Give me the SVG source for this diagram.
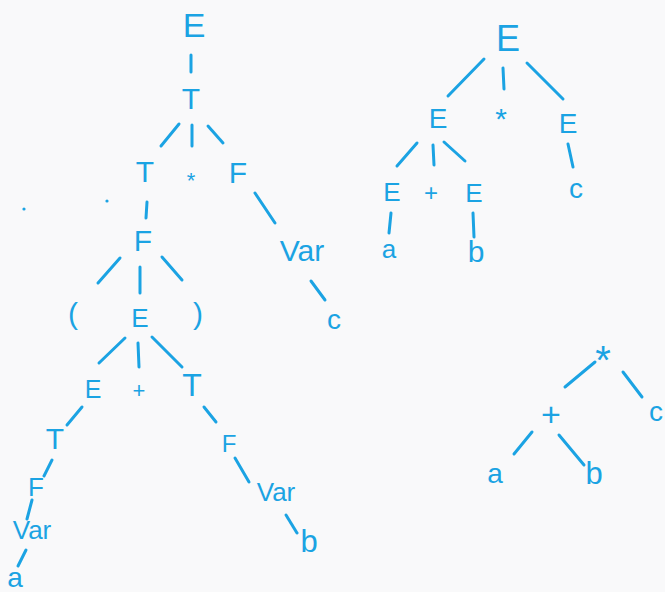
<svg xmlns="http://www.w3.org/2000/svg" width="665" height="592" viewBox="0 0 665 592">
<style>
.t{font-family:"Liberation Sans","DejaVu Sans",sans-serif;fill:#1ba3e3;text-anchor:middle}
.c line{stroke:#1ba3e3;stroke-width:3;stroke-linecap:round}
</style>
<rect width="665" height="592" fill="#f9f9fa"/>
<g class="c" id="connectors">
<line x1="191" y1="55" x2="191" y2="72"/>
<line x1="179" y1="124" x2="161" y2="146"/>
<line x1="192" y1="125" x2="192" y2="146"/>
<line x1="208" y1="126" x2="223" y2="143"/>
<line x1="147" y1="202" x2="146" y2="218"/>
<line x1="255" y1="193" x2="275" y2="223"/>
<line x1="120" y1="258" x2="98" y2="283"/>
<line x1="140" y1="267" x2="140" y2="293"/>
<line x1="162" y1="257" x2="182" y2="280"/>
<line x1="311" y1="281" x2="325" y2="300"/>
<line x1="125" y1="338" x2="99" y2="363"/>
<line x1="138" y1="343" x2="139" y2="367"/>
<line x1="152" y1="337" x2="182" y2="367"/>
<line x1="82" y1="407" x2="67" y2="425"/>
<line x1="204" y1="407" x2="216" y2="422"/>
<line x1="52" y1="460" x2="44" y2="476"/>
<line x1="235" y1="458" x2="249" y2="482"/>
<line x1="32" y1="500" x2="27" y2="519"/>
<line x1="286" y1="515" x2="297" y2="533"/>
<line x1="26" y1="550" x2="18" y2="566"/>
<line x1="484" y1="59" x2="448" y2="96"/>
<line x1="503" y1="68" x2="504" y2="89"/>
<line x1="527" y1="63" x2="563" y2="99"/>
<line x1="417" y1="143" x2="397" y2="166"/>
<line x1="433" y1="145" x2="434" y2="165"/>
<line x1="444" y1="142" x2="465" y2="161"/>
<line x1="568" y1="144" x2="573" y2="167"/>
<line x1="391" y1="213" x2="389" y2="233"/>
<line x1="473" y1="213" x2="474" y2="237"/>
<line x1="595" y1="362" x2="565" y2="387"/>
<line x1="623" y1="372" x2="642" y2="397"/>
<line x1="532" y1="432" x2="514" y2="454"/>
<line x1="559" y1="435" x2="584" y2="465"/>
</g>
<g id="dots" fill="#1ba3e3"><circle cx="24" cy="209" r="1.6"/><circle cx="107" cy="201" r="1.6"/></g>
<g id="L-E1"><text class="t" x="194" y="37" font-size="34">E</text></g>
<g id="L-T1"><text class="t" x="191" y="109" font-size="30">T</text></g>
<g id="L-T2"><text class="t" x="145" y="182" font-size="30">T</text></g>
<g id="L-star"><text class="t" x="191" y="188" font-size="22">*</text></g>
<g id="L-F1"><text class="t" x="238" y="183" font-size="30">F</text></g>
<g id="L-F2"><text class="t" x="143" y="251" font-size="30">F</text></g>
<g id="L-Var1"><text class="t" x="302" y="261" font-size="30">Var</text></g>
<g id="L-c"><text class="t" x="334" y="329" font-size="28">c</text></g>
<g id="L-lp"><text class="t" x="73" y="324" font-size="30">(</text></g>
<g id="L-E2"><text class="t" x="140" y="327" font-size="26">E</text></g>
<g id="L-rp"><text class="t" x="198" y="324" font-size="30">)</text></g>
<g id="L-E3"><text class="t" x="93" y="398" font-size="25">E</text></g>
<g id="L-plus"><text class="t" x="139" y="398" font-size="22">+</text></g>
<g id="L-T3"><text class="t" x="192" y="396" font-size="32">T</text></g>
<g id="L-T4"><text class="t" x="55" y="449" font-size="30">T</text></g>
<g id="L-F3"><text class="t" x="229" y="452" font-size="24">F</text></g>
<g id="L-F4"><text class="t" x="36" y="496" font-size="26">F</text></g>
<g id="L-Var2"><text class="t" x="276" y="501" font-size="26">Var</text></g>
<g id="L-Var3"><text class="t" x="32" y="539" font-size="26">Var</text></g>
<g id="L-b"><text class="t" x="309" y="552" font-size="31">b</text></g>
<g id="L-a"><text class="t" x="15" y="587" font-size="28">a</text></g>
<g id="R-E1"><text class="t" x="508" y="51" font-size="36">E</text></g>
<g id="R-star"><text class="t" x="501" y="129" font-size="30">*</text></g>
<g id="R-E2"><text class="t" x="438" y="128" font-size="28">E</text></g>
<g id="R-E3"><text class="t" x="568" y="133" font-size="28">E</text></g>
<g id="R-E4"><text class="t" x="392" y="201" font-size="26">E</text></g>
<g id="R-plus"><text class="t" x="431" y="201" font-size="24">+</text></g>
<g id="R-E5"><text class="t" x="474" y="202" font-size="26">E</text></g>
<g id="R-c"><text class="t" x="576" y="198" font-size="28">c</text></g>
<g id="R-a"><text class="t" x="389" y="258" font-size="26">a</text></g>
<g id="R-b"><text class="t" x="476" y="262" font-size="30">b</text></g>
<g id="A-star"><text class="t" x="603" y="374" font-size="40">*</text></g>
<g id="A-plus"><text class="t" x="551" y="426" font-size="34">+</text></g>
<g id="A-c"><text class="t" x="656" y="421" font-size="28">c</text></g>
<g id="A-a"><text class="t" x="495" y="483" font-size="28">a</text></g>
<g id="A-b"><text class="t" x="594" y="484" font-size="31">b</text></g>
</svg>
